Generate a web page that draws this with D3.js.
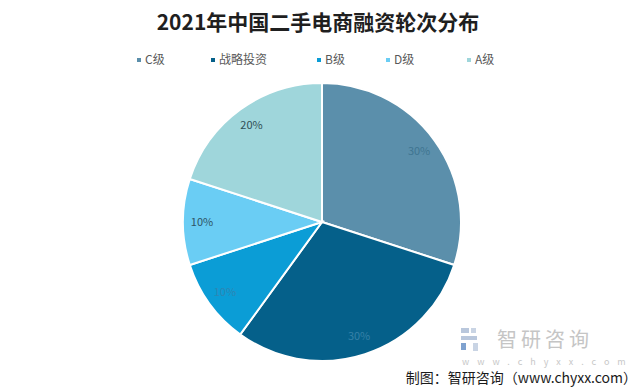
<!DOCTYPE html>
<html>
<head>
<meta charset="utf-8">
<script src="https://cdn.jsdelivr.net/npm/d3@7"></script>
<style>
  body { margin: 0; background: #fff; }
  svg { display: block; font-family: "Noto Sans CJK SC", "Noto Sans", sans-serif; }
</style>
</head>
<body>
<svg id="chart" width="640" height="388"></svg>
<script>
// data
const categories = ['C级', '战略投资', 'B级', 'D级', 'A级'];
const shares = [30, 30, 10, 10, 20];
const labels = ['30%', '30%', '10%', '10%', '20%'];
const colors = ['#5b8fab', '#05608a', '#0b9dd6', '#6acdf4', '#9fd6db'];
const labelColors = ['#3f7591', '#3581a8', '#2d86b3', '#2f5466', '#2f4f56'];
const legendX = [139, 213, 319, 388, 469];

const width = 640, height = 388;
const cx = 322, cy = 222, radius = 139;

const svg = d3.select('#chart');

// title
svg.append('text')
  .attr('x', 318)
  .attr('y', 30)
  .attr('text-anchor', 'middle')
  .attr('font-size', 21)
  .attr('font-weight', 'bold')
  .attr('fill', '#1f1f1f')
  .text('2021年中国二手电商融资轮次分布');

// legend
const legend = svg.append('g');
categories.forEach((c, i) => {
  const g = legend.append('g').attr('transform', `translate(${legendX[i]},60)`);
  g.append('rect')
    .attr('x', -2).attr('y', -2)
    .attr('width', 4).attr('height', 4)
    .attr('fill', colors[i]);
  g.append('text')
    .attr('x', 6).attr('y', 4)
    .attr('font-size', 12)
    .attr('fill', '#595959')
    .text(c);
});

// pie
const pie = d3.pie().sort(null).value(d => d);
const arcs = pie(shares);
const arc = d3.arc().innerRadius(0).outerRadius(radius);
const labelArc = d3.arc().innerRadius(120).outerRadius(120);

const g = svg.append('g').attr('transform', `translate(${cx},${cy})`);

g.selectAll('path')
  .data(arcs)
  .join('path')
  .attr('d', arc)
  .attr('fill', (d, i) => colors[i])
  .attr('stroke', '#fff')
  .attr('stroke-width', 2);

g.selectAll('text.lbl')
  .data(arcs)
  .join('text')
  .attr('class', 'lbl')
  .attr('transform', d => `translate(${labelArc.centroid(d)})`)
  .attr('text-anchor', 'middle')
  .attr('dy', '0.35em')
  .attr('font-size', 11)
  .attr('fill', (d, i) => labelColors[i])
  .text((d, i) => labels[i]);

// watermark
const wm = svg.append('g');
wm.append('rect').attr('x', 461).attr('y', 328).attr('width', 8).attr('height', 5).attr('fill', '#b9c7dc');
wm.append('rect').attr('x', 461).attr('y', 336).attr('width', 16).attr('height', 4).attr('fill', '#b9c7dc');
wm.append('rect').attr('x', 471).attr('y', 328).attr('width', 5).attr('height', 5).attr('fill', '#c9d4e4');
wm.append('rect').attr('x', 461).attr('y', 343).attr('width', 5).attr('height', 7).attr('fill', '#7fa2cf');
wm.append('rect').attr('x', 473).attr('y', 343).attr('width', 5).attr('height', 8).attr('fill', '#c9d4e4');
wm.append('text')
  .attr('x', 497).attr('y', 347)
  .attr('font-size', 20)
  .attr('fill', '#c5c5c5')
  .attr('letter-spacing', 4)
  .text('智研咨询');
wm.append('text')
  .attr('x', 462).attr('y', 365)
  .attr('font-size', 9)
  .attr('fill', '#c8c8c8')
  .attr('letter-spacing', 8)
  .text('www.chyxx.com');

svg.append('text')
  .attr('x', 637).attr('y', 383)
  .attr('text-anchor', 'end')
  .attr('font-size', 14)
  .attr('fill', '#1a1a1a')
  .text('制图：智研咨询（www.chyxx.com）');
</script>
</body>
</html>
